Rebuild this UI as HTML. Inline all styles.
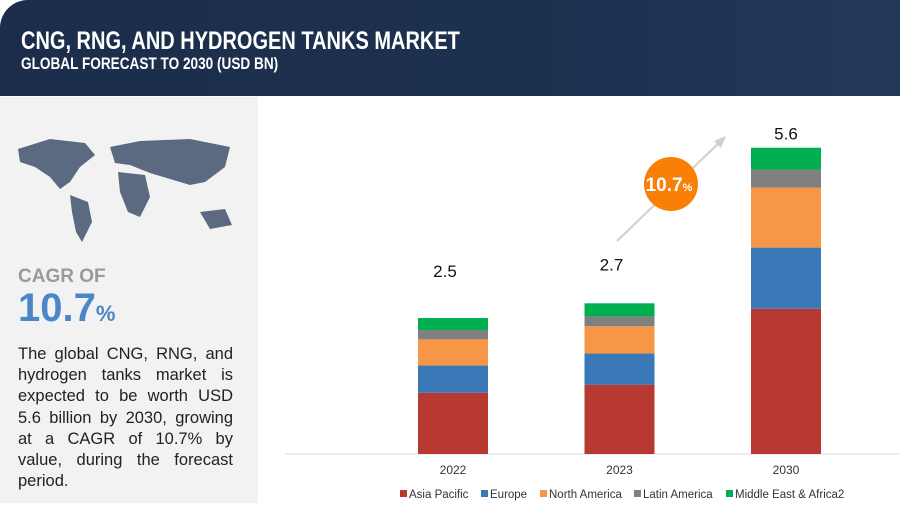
<!DOCTYPE html>
<html><head><meta charset="utf-8"><style>
body{margin:0;width:900px;height:515px;overflow:hidden;background:#fff;font-family:"Liberation Sans",sans-serif;position:relative}
#hdr{position:absolute;left:0;top:0;width:900px;height:96px;background:linear-gradient(90deg,#1b2d4a,#1c3150 60%,#22395a);border-top-left-radius:28px}
.t1{position:absolute;left:21px;top:27px;color:#fff;font:bold 25px "Liberation Sans Narrow","Liberation Sans",sans-serif;transform:scaleX(.8);transform-origin:left;white-space:nowrap}
.t2{position:absolute;left:21px;top:54px;color:#fff;font:bold 17px "Liberation Sans Narrow","Liberation Sans",sans-serif;transform:scaleX(.8);transform-origin:left;white-space:nowrap}
#left{position:absolute;left:0;top:97px;width:258px;height:406px;background:#f2f2f2}
.cagr{position:absolute;left:18px;top:266px;color:#9a9a9a;font:bold 19px "Liberation Sans",sans-serif}
.big{position:absolute;left:18px;top:286px;color:#4a86c8;font:bold 40px "Liberation Sans",sans-serif}
.big span{font-size:22px}
.desc{position:absolute;left:18px;top:344px;width:215px;font-size:16.5px;line-height:21.2px;color:#222;text-align:justify}
</style></head><body>
<div id="hdr">
<div class="t1">CNG, RNG, AND HYDROGEN TANKS MARKET</div>
<div class="t2">GLOBAL FORECAST TO 2030 (USD BN)</div>
</div>
<div id="left">
<svg width="258" height="150" style="position:absolute;left:0;top:30px">
<path d="M18,22 L50,12 L85,16 L95,28 L80,40 L70,55 L60,62 L50,50 L35,40 L20,35Z M70,68 L88,75 L92,95 L82,115 L76,105 L72,85Z M110,20 L140,14 L190,12 L230,20 L225,40 L205,55 L190,58 L170,52 L150,46 L130,38 L115,36Z M118,45 L145,48 L150,70 L140,90 L128,85 L120,65Z M200,85 L225,82 L232,98 L210,102Z" fill="#5b6a80"/>
</svg>
</div>
<div class="cagr">CAGR OF</div>
<div class="big">10.7<span>%</span></div>
<div class="desc">The global CNG, RNG, and hydrogen tanks market is expected to be worth USD 5.6 billion by 2030, growing at a CAGR of 10.7% by value, during the forecast period.</div>
<svg id="chart" width="900" height="515" style="position:absolute;left:0;top:0"></svg>
<script>
const years=["2022","2023","2030"];
const totalsLabels=["2.5","2.7","5.6"];
const seriesNames=["Asia Pacific","Europe","North America","Latin America","Middle East & Africa2"];
const asiaPacific=[1.12,1.27,2.66];
const europe=[0.50,0.57,1.12];
const northAmerica=[0.48,0.50,1.10];
const latinAmerica=[0.17,0.18,0.33];
const middleEast=[0.22,0.24,0.40];
const colors=["#b83832","#3a78b8","#f79646","#808080","#00b050"];
const series=[asiaPacific,europe,northAmerica,latinAmerica,middleEast];
const NS="http://www.w3.org/2000/svg";
const svg=document.getElementById('chart');
const base=454,scale=54.6;
const y=v=>base-v*scale;
const x=i=>418+i*166.5;
const bw=70;
const labelGap=[41,33,8];
function mk(t,a){const e=document.createElementNS(NS,t);for(const k in a)e.setAttribute(k,a[k]);svg.appendChild(e);return e;}
const ax=mk('line',{x1:285,x2:900,y1:base,y2:base,stroke:'#d9d9d9'});


years.forEach((yr,i)=>{
 let acc=0;
 series.forEach((s,j)=>{
  const r=mk('rect',{x:x(i),y:y(acc+s[i]),width:bw,height:s[i]*scale,fill:colors[j]});
  
  
  acc+=s[i];
 });
 const tl=mk('text',{x:x(i)+bw/2-(i==2?0:8),y:y(acc)-labelGap[i],'text-anchor':'middle','font-size':17,fill:'#111','font-family':'Liberation Sans'});
 tl.textContent=totalsLabels[i];
 
 
 const xl=mk('text',{x:x(i)+bw/2,y:474,'text-anchor':'middle','font-size':12,fill:'#333','font-family':'Liberation Sans'});
 xl.textContent=yr;
 
 
});
const arr=mk('line',{x1:617,y1:241,x2:722,y2:140,stroke:'#cfcfcf','stroke-width':2});


const ah=mk('polygon',{points:'726,136 714,141 721,148',fill:'#cfcfcf'});


const c=mk('circle',{cx:671,cy:184,r:27,fill:'#f97f06'});


const ct=mk('text',{x:669,y:191,'text-anchor':'middle','font-size':19,'font-weight':'bold',fill:'#fff','font-family':'Liberation Sans'});
ct.innerHTML='10.7<tspan font-size="11">%</tspan>';


const lx=[400,481,540,634,726];
seriesNames.forEach((n,j)=>{
 const r=mk('rect',{x:lx[j],y:490,width:7,height:7,fill:colors[j]});
 
 
 const t=mk('text',{x:lx[j]+9,y:498,'font-size':11.5,fill:'#333','font-family':'Liberation Sans'});
 t.textContent=n;
 
 
});
</script>
</body></html>
